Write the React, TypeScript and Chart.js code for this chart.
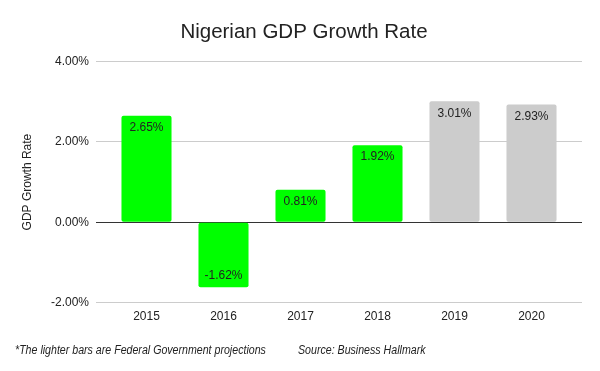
import React, { useEffect, useRef } from "react";
import { Chart, registerables } from "chart.js";

Chart.register(...registerables);

const years = ["2015", "2016", "2017", "2018", "2019", "2020"];
const growth = [2.65, -1.62, 0.81, 1.92, 3.01, 2.93];
const projected = [false, false, false, false, true, true];
const yTicks = [-2, 0, 2, 4];
const titleText = "Nigerian GDP Growth Rate";
const yTitle = "GDP Growth Rate";
const footNote = "*The lighter bars are Federal Government projections";
const sourceNote = "Source: Business Hallmark";

const FONT = 'Arial, "Liberation Sans", sans-serif';

const labelPlugin = {
  id: "barLabels",
  afterDatasetsDraw(chart: any) {
    const ctx = chart.ctx;
    const meta = chart.getDatasetMeta(0);
    ctx.save();
    ctx.font = "12px " + FONT;
    ctx.fillStyle = "#222";
    ctx.textAlign = "center";
    ctx.textBaseline = "middle";
    meta.data.forEach((bar: any, i: number) => {
      const v = growth[i];
      const y = v >= 0 ? bar.y + 12 : bar.y - 12;
      ctx.fillText(v.toFixed(2) + "%", bar.x, y);
    });
    ctx.restore();
  },
};

const FOOT_SCALE = 0.885;
const footPlugin = {
  id: "footNotes",
  afterDraw(chart: any) {
    const ctx = chart.ctx;
    ctx.save();
    ctx.font = "italic 12px " + FONT;
    ctx.fillStyle = "#222";
    ctx.textAlign = "left";
    ctx.textBaseline = "middle";
    ctx.translate(0, 351);
    ctx.scale(FOOT_SCALE, 1);
    ctx.fillText(footNote, 15 / FOOT_SCALE, 0);
    ctx.fillText(sourceNote, 298 / FOOT_SCALE, 0);
    ctx.restore();
  },
};

export default function App() {
  const ref = useRef<HTMLCanvasElement>(null);
  useEffect(() => {
    if (!ref.current) return;
    const gridColor = (c: any) => (c.tick && c.tick.value === 0 ? "#333333" : "#cccccc");
    const chart = new Chart(ref.current, {
      type: "bar",
      data: {
        labels: years,
        datasets: [
          {
            data: growth,
            backgroundColor: projected.map((p) => (p ? "#cccccc" : "#00ff00")),
            borderRadius: 2,
            borderSkipped: false,
            categoryPercentage: 1,
            barPercentage: 0.65,
          },
        ],
      },
      options: {
        animation: false,
        responsive: false,
        maintainAspectRatio: false,
        layout: { padding: { top: 12, bottom: 40, left: 26, right: 18 } },
        plugins: {
          legend: { display: false },
          tooltip: { enabled: false },
          title: {
            display: true,
            text: titleText,
            color: "#222",
            font: { family: FONT, size: 20.5, weight: "normal" },
            padding: { top: 8, bottom: 17 },
          },
        },
        scales: {
          x: {
            grid: { display: false, drawTicks: false },
            border: { display: false },
            ticks: { color: "#222", font: { family: FONT, size: 12 }, padding: 7 },
          },
          y: {
            min: -2,
            max: 4,
            afterBuildTicks: (s: any) => {
              s.ticks = yTicks.map((v) => ({ value: v }));
            },
            afterFit: (s: any) => {
              s.width = 82;
            },
            grid: { color: gridColor, tickColor: gridColor, tickLength: 12, drawTicks: true },
            border: { display: false },
            ticks: {
              color: "#222",
              font: { family: FONT, size: 12 },
              padding: 7,
              callback: (v: any) => Number(v).toFixed(2) + "%",
            },
            title: {
              display: true,
              text: yTitle,
              color: "#222",
              font: { family: FONT, size: 12 },
              padding: { top: -6, bottom: 0 },
            },
          },
          yRight: {
            position: "right",
            min: -2,
            max: 4,
            afterBuildTicks: (s: any) => {
              s.ticks = yTicks.map((v) => ({ value: v }));
            },
            afterFit: (s: any) => {
              s.width = 12;
            },
            grid: { color: gridColor, tickColor: gridColor, tickLength: 12, drawTicks: true, drawOnChartArea: false },
            border: { display: false },
            ticks: { display: false },
          },
        },
      },
      plugins: [labelPlugin, footPlugin],
    } as any);
    return () => chart.destroy();
  }, []);
  return (
    <div style={{ position: "fixed", left: 0, top: 0, width: 600, height: 371, background: "#fff" }}>
      <canvas ref={ref} width={600} height={371} />
    </div>
  );
}
